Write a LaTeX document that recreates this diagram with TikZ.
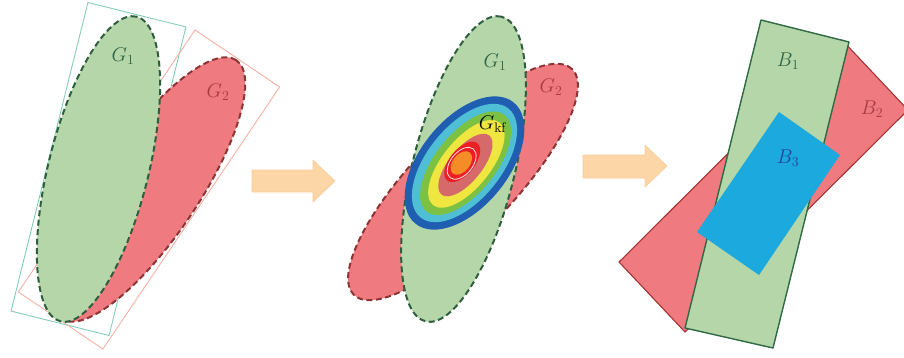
\documentclass[tikz,border=0pt]{standalone}
\usepackage{amsmath}
\definecolor{gfc}{HTML}{B4D6A8}
\definecolor{gdash}{HTML}{2F5E3E}
\definecolor{rfc}{HTML}{EF7A80}
\definecolor{rdash}{HTML}{8E3434}
\definecolor{tealr}{HTML}{86CDB8}
\definecolor{pinkr}{HTML}{F6B0A6}
\definecolor{arrowc}{HTML}{FDD6A8}
\definecolor{arrowd}{HTML}{FBCB98}
\definecolor{bgreen}{HTML}{2E6A44}
\definecolor{bred}{HTML}{A23535}
\definecolor{bblue}{HTML}{1CA9DD}
\definecolor{cblue}{HTML}{1F5EB0}
\definecolor{ccyan}{HTML}{4FBFD6}
\definecolor{cgreen}{HTML}{7CC142}
\definecolor{cyellow}{HTML}{F0E640}
\definecolor{csalmon}{HTML}{D6696A}
\definecolor{cred}{HTML}{EB2025}
\definecolor{corange}{HTML}{F58C28}
\definecolor{tgreen}{HTML}{2F6446}
\definecolor{tred}{HTML}{A83A42}
\definecolor{tblue}{HTML}{24449A}
\begin{document}
\begin{tikzpicture}[x=1pt,y=-1pt,
  lab/.style={inner sep=0pt,font=\huge,scale=0.96},
  gdashed/.style={draw=gdash,line width=2pt,dash pattern=on 6pt off 3.5pt},
  rdashed/.style={draw=rdash,line width=2pt,dash pattern=on 6pt off 3.5pt},
  bigarrow/.style={fill=arrowc,draw=arrowd,line width=0.6pt,line join=round}]
\useasboundingbox (0,0) rectangle (904,357);
\clip (0,0) rectangle (904,357);

% ---------- panel 1 ----------
\begin{scope}[shift={(98.5,169)},rotate=76]
  \draw[tealr,line width=0.9pt] (-159,-50.5) rectangle (159,50.5);
\end{scope}
\begin{scope}[shift={(149,189.5)},rotate=56]
  \draw[pinkr,line width=0.9pt] (-158,-51) rectangle (158,51);
\end{scope}
\begin{scope}[shift={(149,189.5)},rotate=56]
  \path[fill=rfc,rdashed] (0,0) ellipse [x radius=156pt,y radius=49pt];
\end{scope}
\begin{scope}[shift={(98.5,169)},rotate=76]
  \path[fill=gfc,gdashed] (0,0) ellipse [x radius=157pt,y radius=50pt];
\end{scope}
\node[lab,text=tgreen] (g1a) at (123,56) {$G_1$};
\node[lab,text=tred] (g2a) at (218,92) {$G_2$};

% ---------- arrow 1 ----------
\path[bigarrow] (252,170) -- (313,170) -- (313,160) -- (335,181) -- (313,202) -- (313,192) -- (252,192) -- cycle;

% ---------- panel 2 ----------
\begin{scope}[shift={(463,182)},rotate=46]
  \path[fill=rfc,rdashed] (0,0) ellipse [x radius=157pt,y radius=50pt];
\end{scope}
\begin{scope}[shift={(463.5,169)},rotate=76]
  \path[fill=gfc,gdashed] (0,0) ellipse [x radius=157pt,y radius=51pt];
\end{scope}
\begin{scope}[rotate around={51:(464.5,163)}]
  \fill[cblue] (464.5,163) ellipse [x radius=78pt,y radius=44pt];
  \fill[ccyan] (464.5,163) ellipse [x radius=70pt,y radius=37pt];
  \fill[cgreen] (465,164) ellipse [x radius=62pt,y radius=30pt];
  \fill[cyellow] (465,165) ellipse [x radius=53pt,y radius=24pt];
  \fill[csalmon] (463.5,165) ellipse [x radius=38pt,y radius=16.5pt];
  \fill[cred] (464,160.5) ellipse [x radius=24pt,y radius=12.5pt];
  \draw[white!85!cred,line width=0.8pt] (462.5,161) ellipse [x radius=18.5pt,y radius=11pt];
  \fill[corange] (462.5,160.5) ellipse [x radius=13.5pt,y radius=8.5pt];
\end{scope}
\node[lab,text=tgreen] (g1b) at (495,62) {$G_1$};
\node[lab,text=tred] (g2b) at (551,87) {$G_2$};
\node[lab,text=black] (gkf) at (493,124) {$G_{\mathrm{kf}}$};

% ---------- arrow 2 ----------
\path[bigarrow] (583,155) -- (645,155) -- (645,145) -- (667,166) -- (645,187) -- (645,178) -- (583,178) -- cycle;

% ---------- panel 3 ----------
\path[fill=rfc,draw=bred,line width=1.1pt,line join=round] (619,262) -- (685,332) -- (908,110) -- (842,40) -- cycle;
\path[fill=gfc,draw=bgreen,line width=1.4pt,line join=round] (761,20) -- (849,42) -- (773,348) -- (685,328) -- cycle;
\path[fill=bblue] (779,112) -- (840,155) -- (759,275) -- (697,232) -- cycle;
\node[lab,text=tgreen] (b1) at (788,61) {$B_1$};
\node[lab,text=tred] (b2) at (872,109) {$B_2$};
\node[lab,text=tblue] (b3) at (788,158) {$B_3$};
\end{tikzpicture}
\end{document}
